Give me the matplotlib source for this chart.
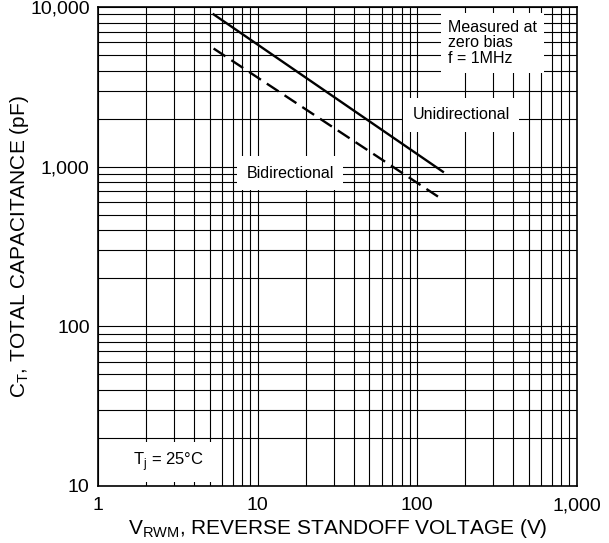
import matplotlib
matplotlib.use("Agg")
import matplotlib.pyplot as plt
from matplotlib.ticker import FixedLocator, FixedFormatter, LogLocator, NullFormatter

plt.rcParams['font.family'] = ['Liberation Sans', 'DejaVu Sans']
plt.rcParams['mathtext.fontset'] = 'custom'
plt.rcParams['mathtext.rm'] = 'Liberation Sans'

# data
uni_v = [5.3, 145]
uni_c = [9000, 930]
bi_v = [5.3, 135]
bi_c = [5500, 650]

x_ticks = [1, 10, 100, 1000]
x_labels = ["1", "10", "100", "1,000"]
y_ticks = [10, 100, 1000, 10000]
y_labels = ["10", "100", "1,000", "10,000"]

fig = plt.figure(figsize=(6.09, 5.43), dpi=100)
ax = fig.add_axes([0.161, 0.105, 0.786, 0.882])

ax.set_xscale('log')
ax.set_yscale('log')
ax.set_xlim(1, 1000)
ax.set_ylim(10, 10000)

ax.xaxis.set_major_locator(FixedLocator(x_ticks))
ax.xaxis.set_major_formatter(FixedFormatter(x_labels))
ax.yaxis.set_major_locator(FixedLocator(y_ticks))
ax.yaxis.set_major_formatter(FixedFormatter(y_labels))
ax.xaxis.set_minor_locator(LogLocator(base=10, subs=range(2, 10)))
ax.yaxis.set_minor_locator(LogLocator(base=10, subs=range(2, 10)))
ax.xaxis.set_minor_formatter(NullFormatter())
ax.yaxis.set_minor_formatter(NullFormatter())

ax.tick_params(which='both', length=0, labelsize=14, pad=8)
ax.tick_params(axis='y', pad=6)
ax.grid(True, which='both', color='black', linewidth=0.8)
ax.set_axisbelow(True)
for s in ax.spines.values():
    s.set_linewidth(1.2)

ax.plot(uni_v, uni_c, color='black', linewidth=1.7, zorder=5)
ax.plot(bi_v, bi_c, color='black', linewidth=1.7, linestyle=(0, (6, 3)), zorder=5)

ax.text(0.731, 0.925, "Measured at\nzero bias\nf = 1MHz", transform=ax.transAxes,
        ha='left', va='center', fontsize=11.5, linespacing=1.05, zorder=4,
        bbox=dict(facecolor='white', edgecolor='none', boxstyle='square,pad=0.45'))
ax.text(0.758, 0.775, "Unidirectional", transform=ax.transAxes,
        ha='center', va='center', fontsize=11.5, zorder=4,
        bbox=dict(facecolor='white', edgecolor='none', boxstyle='square,pad=0.6'))
ax.text(0.401, 0.653, "Bidirectional", transform=ax.transAxes,
        ha='center', va='center', fontsize=11.5, zorder=4,
        bbox=dict(facecolor='white', edgecolor='none', boxstyle='square,pad=0.6'))
ax.text(0.146, 0.05, r"T$_\mathregular{j}$ = 25°C", transform=ax.transAxes,
        ha='center', va='center', fontsize=12, zorder=4,
        bbox=dict(facecolor='white', edgecolor='none', boxstyle='square,pad=0.5'))

ax.set_xlabel(r"V$_\mathregular{RWM}$, REVERSE STANDOFF VOLTAGE (V)", fontsize=15, labelpad=2)
ax.set_ylabel(r"C$_\mathregular{T}$, TOTAL CAPACITANCE (pF)", fontsize=15)
ax.yaxis.set_label_coords(-0.14, 0.5)

fig.savefig("out.png", dpi=100)
